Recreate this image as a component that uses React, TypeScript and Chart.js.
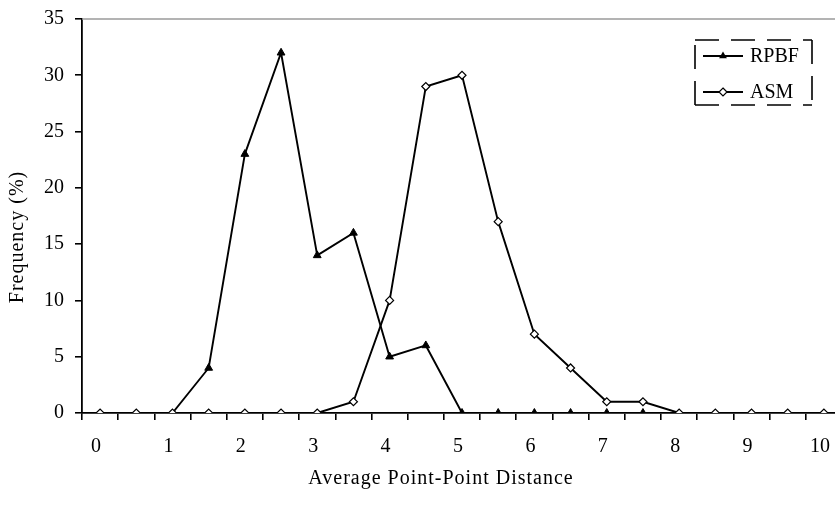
import React, { useEffect, useRef } from 'react';
import { Chart, registerables } from 'chart.js';

Chart.register(...registerables);

// ---- data ----
const categories = ['0', '0.5', '1', '1.5', '2', '2.5', '3', '3.5', '4', '4.5', '5', '5.5', '6', '6.5', '7', '7.5', '8', '8.5', '9', '9.5', '10'];
const rpbfValues = [0, 0, 0, 4, 23, 32, 14, 16, 5, 6, 0, 0, 0, 0, 0, 0, 0, 0, 0, 0, 0];
const asmValues = [0, 0, 0, 0, 0, 0, 0, 1, 10, 29, 30, 17, 7, 4, 1, 1, 0, 0, 0, 0, 0];
const xTickLabels = ['0', '1', '2', '3', '4', '5', '6', '7', '8', '9', '10'];
const yTickValues = [0, 5, 10, 15, 20, 25, 30, 35];
const seriesNames = ['RPBF', 'ASM'];
const xTitle = 'Average Point-Point Distance';
const yTitle = 'Frequency (%)';

const FONT = '"Liberation Serif", "Times New Roman", serif';
const CANVAS_W = 860;
const CANVAS_H = 506;

function drawTriangle(ctx: CanvasRenderingContext2D, x: number, y: number, r: number) {
  ctx.beginPath();
  ctx.moveTo(x, y - r);
  ctx.lineTo(x + r * 0.866, y + r * 0.5);
  ctx.lineTo(x - r * 0.866, y + r * 0.5);
  ctx.closePath();
  ctx.fillStyle = '#000';
  ctx.fill();
}

function drawDiamond(ctx: CanvasRenderingContext2D, x: number, y: number, r: number) {
  ctx.beginPath();
  ctx.moveTo(x, y - r);
  ctx.lineTo(x + r, y);
  ctx.lineTo(x, y + r);
  ctx.lineTo(x - r, y);
  ctx.closePath();
  ctx.fillStyle = '#fff';
  ctx.fill();
  ctx.lineWidth = 1.2;
  ctx.strokeStyle = '#000';
  ctx.stroke();
}

const decorPlugin = {
  id: 'decor',
  beforeDatasetsDraw(chart: any) {
    const { ctx, chartArea } = chart;
    ctx.save();
    ctx.strokeStyle = '#9a9a9a';
    ctx.lineWidth = 1.5;
    ctx.beginPath();
    ctx.moveTo(chartArea.left, chartArea.top);
    ctx.lineTo(chartArea.right, chartArea.top);
    ctx.stroke();
    ctx.restore();
  },
  afterDraw(chart: any) {
    const { ctx, chartArea } = chart;
    const { left, top, bottom } = chartArea;
    ctx.save();
    ctx.fillStyle = '#000';
    ctx.font = `20px ${FONT}`;
    (ctx as any).letterSpacing = '1px';
    ctx.textAlign = 'center';
    ctx.textBaseline = 'middle';
    // x title
    ctx.fillText(xTitle, left + 359, bottom + 66);
    // y title
    ctx.save();
    ctx.translate(left - 64, top + 218);
    ctx.rotate(-Math.PI / 2);
    ctx.fillText(yTitle, 0, 0);
    ctx.restore();
    (ctx as any).letterSpacing = '0px';

    // legend box
    const bx = left + 613;
    const by = top + 21;
    const bw = 117;
    const bh = 65;
    ctx.strokeStyle = '#000';
    ctx.lineWidth = 1.6;
    ctx.setLineDash([24, 12]);
    ctx.beginPath();
    ctx.moveTo(bx, by);
    ctx.lineTo(bx + bw, by);
    ctx.stroke();
    ctx.beginPath();
    ctx.moveTo(bx + bw, by);
    ctx.lineTo(bx + bw, by + bh);
    ctx.stroke();
    ctx.beginPath();
    ctx.moveTo(bx, by + bh);
    ctx.lineTo(bx + bw, by + bh);
    ctx.stroke();
    ctx.beginPath();
    ctx.moveTo(bx, by + bh);
    ctx.lineTo(bx, by);
    ctx.stroke();
    ctx.setLineDash([]);

    const rows = [by + 16, by + 52];
    seriesNames.forEach((name, i) => {
      const ry = rows[i];
      ctx.strokeStyle = '#000';
      ctx.lineWidth = 1.8;
      ctx.beginPath();
      ctx.moveTo(bx + 8, ry);
      ctx.lineTo(bx + 48, ry);
      ctx.stroke();
      if (i === 0) drawTriangle(ctx, bx + 28, ry, 4.5);
      else drawDiamond(ctx, bx + 28, ry, 4);
      ctx.fillStyle = '#000';
      ctx.font = `20px ${FONT}`;
      ctx.textAlign = 'left';
      ctx.textBaseline = 'middle';
      ctx.fillText(name, bx + 55, ry + 1);
    });
    ctx.restore();
  },
};

export default function App() {
  const canvasRef = useRef<HTMLCanvasElement | null>(null);

  useEffect(() => {
    const canvas = canvasRef.current;
    if (!canvas) return;
    const chart = new Chart(canvas, {
      type: 'line',
      data: {
        labels: categories,
        datasets: [
          {
            label: seriesNames[0],
            data: rpbfValues,
            borderColor: '#000',
            borderWidth: 1.9,
            backgroundColor: '#000',
            pointStyle: 'triangle',
            pointRadius: (c: any) =>
              rpbfValues[c.dataIndex] === 0 && asmValues[c.dataIndex] === 0 ? 0 : 4.5,
            pointBackgroundColor: '#000',
            pointBorderColor: '#000',
            pointBorderWidth: 1,
            tension: 0,
            order: 2,
          },
          {
            label: seriesNames[1],
            data: asmValues,
            borderColor: '#000',
            borderWidth: 1.9,
            backgroundColor: '#fff',
            pointStyle: 'rectRot',
            pointRadius: 4,
            pointBackgroundColor: '#fff',
            pointBorderColor: '#000',
            pointBorderWidth: 1.2,
            tension: 0,
            order: 1,
          },
        ],
      },
      options: {
        responsive: false,
        animation: false,
        events: [],
        layout: { padding: { top: 19, left: 0, right: 18, bottom: 0 } },
        plugins: {
          legend: { display: false },
          tooltip: { enabled: false },
          title: { display: false },
        },
        scales: {
          x: {
            type: 'category',
            offset: true,
            afterFit: (scale: any) => {
              scale.height = 93;
              scale.paddingLeft = 0;
              scale.paddingRight = 0;
            },
            grid: {
              offset: true,
              display: true,
              drawOnChartArea: false,
              drawTicks: true,
              tickLength: 7,
              color: '#000',
              lineWidth: 1.6,
            },
            border: { display: true, color: '#000', width: 1.8 },
            ticks: {
              autoSkip: false,
              maxRotation: 0,
              minRotation: 0,
              padding: 15,
              labelOffset: -4,
              color: '#000',
              font: { family: FONT, size: 20 },
              callback: (_v: any, i: number) =>
                xTickLabels.includes(categories[i]) ? categories[i] : '',
            },
          },
          y: {
            min: yTickValues[0],
            max: yTickValues[yTickValues.length - 1],
            afterFit: (scale: any) => {
              scale.width = 82;
              scale.paddingTop = 0;
              scale.paddingBottom = 0;
            },
            afterBuildTicks: (scale: any) => {
              scale.ticks = yTickValues.map((v) => ({ value: v }));
            },
            grid: {
              display: true,
              drawOnChartArea: false,
              drawTicks: true,
              tickLength: 7,
              color: '#000',
              lineWidth: 1.6,
            },
            border: { display: true, color: '#000', width: 1.8 },
            ticks: {
              padding: 11,
              color: '#000',
              font: { family: FONT, size: 20 },
            },
          },
        },
      },
      plugins: [decorPlugin],
    } as any);
    return () => chart.destroy();
  }, []);

  return (
    <div
      style={{
        position: 'absolute',
        left: 0,
        top: 0,
        width: 835,
        height: 506,
        overflow: 'hidden',
        background: '#fff',
      }}
    >
      <canvas
        ref={canvasRef}
        width={CANVAS_W}
        height={CANVAS_H}
        style={{ display: 'block', width: CANVAS_W, height: CANVAS_H }}
      />
    </div>
  );
}
